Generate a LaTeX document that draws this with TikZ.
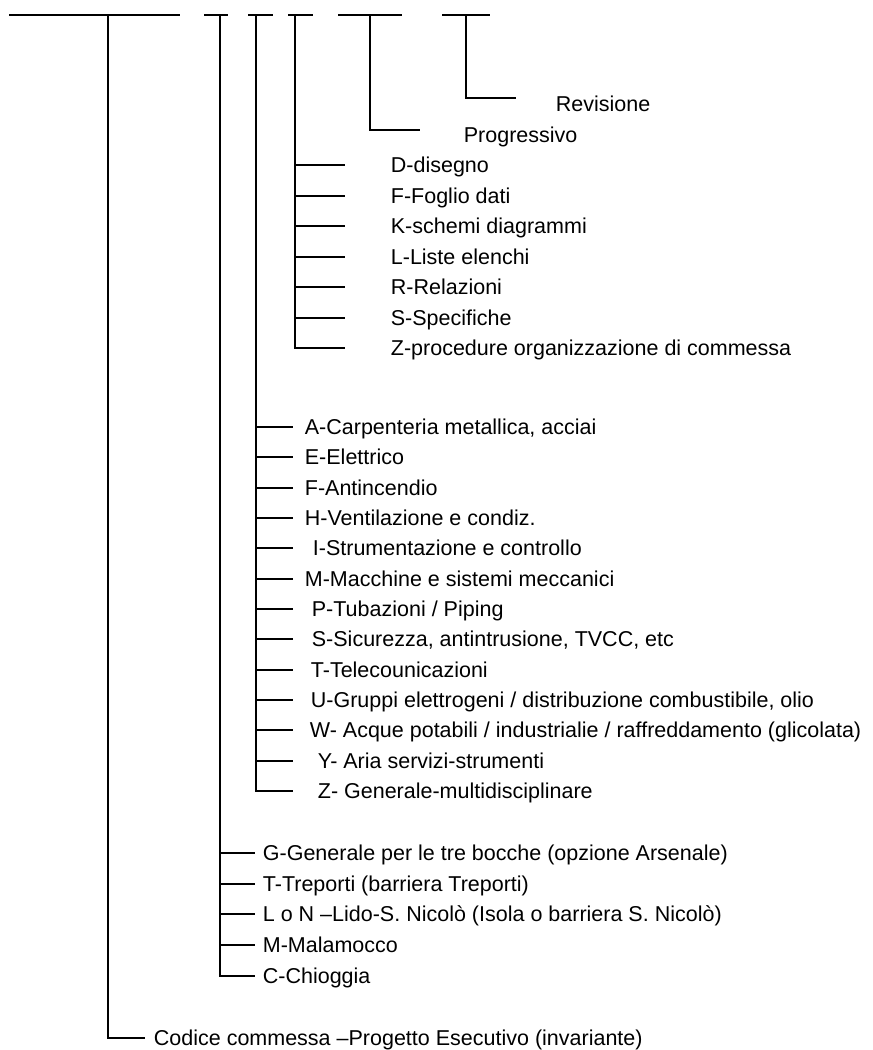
\documentclass[tikz,border=0pt]{standalone}
\usepackage{fontspec}
\setmainfont{Liberation Sans}
\usetikzlibrary{positioning}
\tikzset{
lbl/.style={inner sep=0pt, font=\fontsize{21.5}{26}\selectfont,
    text height=15.4pt, text depth=0pt}
}

\begin{document}
\begin{tikzpicture}[x=1pt,y=-1pt,line width=1.8pt]
\useasboundingbox (0,0) rectangle (873,1050);

% code fields on top
\coordinate (c1a) at (9,15);   \coordinate (c1b) at (180,15); \coordinate (c1) at (108,15);
\coordinate (c2a) at (204,15); \coordinate (c2b) at (228,15); \coordinate (c2) at (220,15);
\coordinate (c3a) at (248,15); \coordinate (c3b) at (273,15); \coordinate (c3) at (256,15);
\coordinate (c4a) at (288,15); \coordinate (c4b) at (313,15); \coordinate (c4) at (295,15);
\coordinate (c5a) at (338,15); \coordinate (c5b) at (402,15); \coordinate (c5) at (370,15);
\coordinate (c6a) at (442,15); \coordinate (c6b) at (490,15); \coordinate (c6) at (466,15);
\draw (c1a) -- (c1b);
\draw (c2a) -- (c2b);
\draw (c3a) -- (c3b);
\draw (c4a) -- (c4b);
\draw (c5a) -- (c5b);
\draw (c6a) -- (c6b);

% revisione
\coordinate (rv) at (516,98);
\node[lbl, right=39pt of rv, yshift=-5.5pt] (revisione) {Revisione};
\draw (c6) |- (rv);

% progressivo
\coordinate (pg) at (420,130);
\node[lbl, right=43pt of pg, yshift=-4.5pt] (progressivo) {Progressivo};
\draw (c5) |- (pg);

% tipo documento
\coordinate (d1) at (345,165);
\coordinate (d2) at (345,196);
\coordinate (d3) at (345,226);
\coordinate (d4) at (345,257);
\coordinate (d5) at (345,287);
\coordinate (d6) at (345,318);
\coordinate (d7) at (345,348);
\node[lbl, right=45pt of d1] (tD) {D-disegno};
\node[lbl, right=45pt of d2] (tF) {F-Foglio dati};
\node[lbl, right=45pt of d3] (tK) {K-schemi diagrammi};
\node[lbl, right=45pt of d4] (tL) {L-Liste elenchi};
\node[lbl, right=45pt of d5] (tR) {R-Relazioni};
\node[lbl, right=45pt of d6] (tS) {S-Specifiche};
\node[lbl, right=45pt of d7] (tZ) {Z-procedure organizzazione di commessa};
\draw (c4) |- (d7);
\draw (c4 |- d1) -- (d1);
\draw (c4 |- d2) -- (d2);
\draw (c4 |- d3) -- (d3);
\draw (c4 |- d4) -- (d4);
\draw (c4 |- d5) -- (d5);
\draw (c4 |- d6) -- (d6);

% disciplina
\coordinate (a1) at (293,427);
\coordinate (a2) at (293,457);
\coordinate (a3) at (293,488);
\coordinate (a4) at (293,518);
\coordinate (a5) at (293,548);
\coordinate (a6) at (293,579);
\coordinate (a7) at (293,609);
\coordinate (a8) at (293,639);
\coordinate (a9) at (293,670);
\coordinate (a10) at (293,700);
\coordinate (a11) at (293,730);
\coordinate (a12) at (293,761);
\coordinate (a13) at (293,791);
\node[lbl, right=11pt of a1] (dA) {A-Carpenteria metallica, acciai};
\node[lbl, right=11pt of a2] (dE) {E-Elettrico};
\node[lbl, right=11pt of a3] (dF) {F-Antincendio};
\node[lbl, right=11pt of a4] (dH) {H-Ventilazione e condiz.};
\node[lbl, right=19pt of a5] (dI) {I-Strumentazione e controllo};
\node[lbl, right=11pt of a6] (dM) {M-Macchine e sistemi meccanici};
\node[lbl, right=18pt of a7] (dP) {P-Tubazioni / Piping};
\node[lbl, right=18pt of a8] (dS) {S-Sicurezza, antintrusione, TVCC, etc};
\node[lbl, right=17pt of a9] (dT) {T-Telecounicazioni};
\node[lbl, right=17pt of a10] (dU) {U-Gruppi elettrogeni / distribuzione combustibile, olio};
\node[lbl, right=16pt of a11] (dW) {W- Acque potabili / industrialie / raffreddamento (glicolata)};
\node[lbl, right=24pt of a12] (dY) {Y- Aria servizi-strumenti};
\node[lbl, right=24pt of a13] (dZ) {Z- Generale-multidisciplinare};
\draw (c3) |- (a13);
\draw (c3 |- a1) -- (a1);
\draw (c3 |- a2) -- (a2);
\draw (c3 |- a3) -- (a3);
\draw (c3 |- a4) -- (a4);
\draw (c3 |- a5) -- (a5);
\draw (c3 |- a6) -- (a6);
\draw (c3 |- a7) -- (a7);
\draw (c3 |- a8) -- (a8);
\draw (c3 |- a9) -- (a9);
\draw (c3 |- a10) -- (a10);
\draw (c3 |- a11) -- (a11);
\draw (c3 |- a12) -- (a12);

% sito
\coordinate (s1) at (255,853);
\coordinate (s2) at (255,884);
\coordinate (s3) at (255,914);
\coordinate (s4) at (255,945);
\coordinate (s5) at (255,976);
\node[lbl, right=7pt of s1] (sG) {G-Generale per le tre bocche (opzione Arsenale)};
\node[lbl, right=7pt of s2] (sT) {T-Treporti (barriera Treporti)};
\node[lbl, right=7pt of s3] (sL) {L o N –Lido-S. Nicolò (Isola o barriera S. Nicolò)};
\node[lbl, right=7pt of s4] (sM) {M-Malamocco};
\node[lbl, right=7pt of s5] (sC) {C-Chioggia};
\draw (c2) |- (s5);
\draw (c2 |- s1) -- (s1);
\draw (c2 |- s2) -- (s2);
\draw (c2 |- s3) -- (s3);
\draw (c2 |- s4) -- (s4);

% commessa
\coordinate (cm) at (145,1038);
\node[lbl, right=8pt of cm] (codice) {Codice commessa –Progetto Esecutivo (invariante)};
\draw (c1) |- (cm);
\end{tikzpicture}
\end{document}
